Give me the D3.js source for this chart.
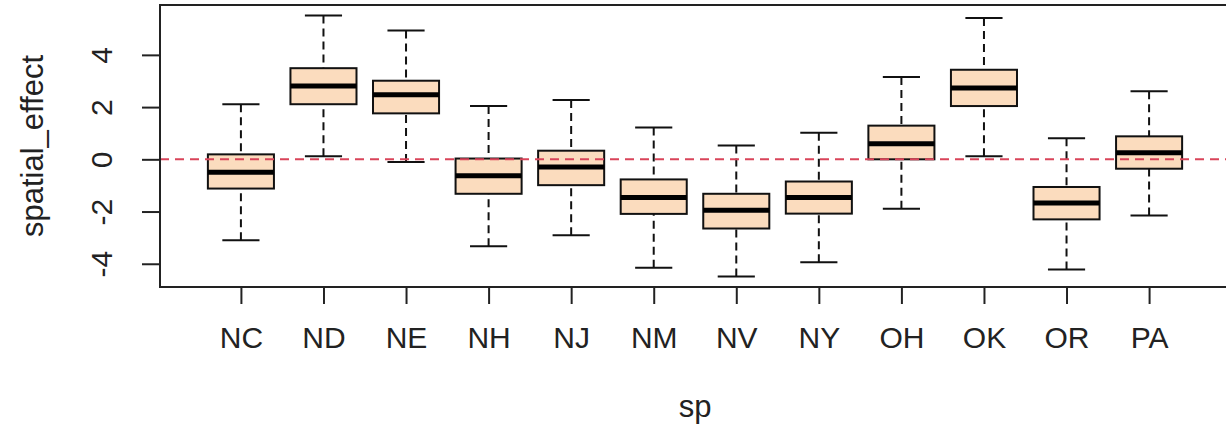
<!DOCTYPE html>
<html>
<head>
<meta charset="utf-8">
<script src="https://cdn.jsdelivr.net/npm/d3@7"></script>
<style>
  html, body { margin: 0; padding: 0; background: #fff; }
  svg { display: block; }
  text { font-family: "Liberation Sans", Arial, sans-serif; fill: #222; }
</style>
</head>
<body>
<svg id="chart" width="1226" height="428"></svg>
<script>
// States (grouping variable "sp")
const categories = ["NC", "ND", "NE", "NH", "NJ", "NM", "NV", "NY", "OH", "OK", "OR", "PA"];

// Five-number summaries of spatial_effect per state
const whiskerLow  = [-3.10, 0.12, -0.10, -3.33, -2.91, -4.15, -4.49, -3.94, -1.89, 0.12, -4.22, -2.15];
const boxLow      = [-1.12, 2.11, 1.76, -1.32, -0.99, -2.09, -2.65, -2.08, 0.00, 2.04, -2.30, -0.36];
const medians     = [-0.50, 2.81, 2.47, -0.63, -0.29, -1.46, -1.95, -1.46, 0.60, 2.73, -1.67, 0.25];
const boxHigh     = [0.19, 3.49, 3.01, 0.03, 0.33, -0.77, -1.32, -0.85, 1.29, 3.43, -1.06, 0.88];
const whiskerHigh = [2.11, 5.51, 4.93, 2.04, 2.27, 1.22, 0.53, 1.02, 3.15, 5.41, 0.81, 2.61];

const yTicks = [-4, -2, 0, 2, 4];
const refValue = 0;
const xLabel = "sp";
const yLabel = "spatial_effect";

const svg = d3.select("#chart");
const plot = { left: 160, right: 1230, top: 5, bottom: 287 };

// x: group index 1..n, padded like base R boxplot
const n = categories.length;
const xPad = 0.04 * n;
const x = d3.scaleLinear()
  .domain([0.5 - xPad, n + 0.5 + xPad])
  .range([plot.left, plot.right]);

// y: data range extended by 4%
const yMin = d3.min(whiskerLow), yMax = d3.max(whiskerHigh);
const yExt = 0.04 * (yMax - yMin);
const y = d3.scaleLinear()
  .domain([yMin - yExt, yMax + yExt])
  .range([plot.bottom, plot.top]);

const unit = x(2) - x(1);
const boxW = 0.8 * unit;
const capW = 0.45 * unit;

const data = categories.map((c, i) => ({
  name: c, pos: i + 1,
  lo: whiskerLow[i], q1: boxLow[i], med: medians[i], q3: boxHigh[i], hi: whiskerHigh[i]
}));

const g = svg.append("g");
const boxes = g.selectAll("g.box").data(data).join("g").attr("class", "box");

// dashed whiskers
boxes.append("line")
  .attr("x1", d => x(d.pos)).attr("x2", d => x(d.pos))
  .attr("y1", d => y(d.hi)).attr("y2", d => y(d.q3))
  .attr("stroke", "#111").attr("stroke-width", 2).attr("stroke-dasharray", "8,5");
boxes.append("line")
  .attr("x1", d => x(d.pos)).attr("x2", d => x(d.pos))
  .attr("y1", d => y(d.lo)).attr("y2", d => y(d.q1))
  .attr("stroke", "#111").attr("stroke-width", 2).attr("stroke-dasharray", "8,5");

// whisker caps
boxes.append("line")
  .attr("x1", d => x(d.pos) - capW / 2).attr("x2", d => x(d.pos) + capW / 2)
  .attr("y1", d => y(d.hi)).attr("y2", d => y(d.hi))
  .attr("stroke", "#111").attr("stroke-width", 2);
boxes.append("line")
  .attr("x1", d => x(d.pos) - capW / 2).attr("x2", d => x(d.pos) + capW / 2)
  .attr("y1", d => y(d.lo)).attr("y2", d => y(d.lo))
  .attr("stroke", "#111").attr("stroke-width", 2);

// boxes
boxes.append("rect")
  .attr("x", d => x(d.pos) - boxW / 2)
  .attr("width", boxW)
  .attr("y", d => y(d.q3))
  .attr("height", d => y(d.q1) - y(d.q3))
  .attr("fill", "#FBDCBE")
  .attr("stroke", "#111").attr("stroke-width", 2);

// medians
boxes.append("line")
  .attr("x1", d => x(d.pos) - boxW / 2).attr("x2", d => x(d.pos) + boxW / 2)
  .attr("y1", d => y(d.med)).attr("y2", d => y(d.med))
  .attr("stroke", "#000").attr("stroke-width", 5);

// reference line at zero
svg.append("line")
  .attr("x1", plot.left).attr("x2", plot.right)
  .attr("y1", y(refValue)).attr("y2", y(refValue))
  .attr("stroke", "#D9445A").attr("stroke-width", 2).attr("stroke-dasharray", "9,6");

// frame
svg.append("rect")
  .attr("x", plot.left).attr("y", plot.top)
  .attr("width", plot.right - plot.left).attr("height", plot.bottom - plot.top)
  .attr("fill", "none").attr("stroke", "#222").attr("stroke-width", 2);

// y axis
const yAxis = svg.append("g")
  .attr("transform", `translate(${plot.left},0)`)
  .call(d3.axisLeft(y).tickValues(yTicks).tickSize(18).tickSizeOuter(0)
    .tickFormat(d => String(d)));
yAxis.select(".domain").remove();
yAxis.selectAll(".tick line").attr("stroke", "#222").attr("stroke-width", 2);
yAxis.selectAll(".tick text")
  .attr("transform", "rotate(-90)")
  .attr("x", 0).attr("y", -48).attr("dy", 0)
  .attr("text-anchor", "middle")
  .style("font-size", "30px")
  .style("font-family", "'Liberation Sans', Arial, sans-serif")
  .attr("fill", "#222");

// x axis
const xAxis = svg.append("g")
  .attr("transform", `translate(0,${plot.bottom})`)
  .call(d3.axisBottom(x).tickValues(d3.range(1, n + 1)).tickSize(17).tickSizeOuter(0)
    .tickFormat(d => categories[d - 1]));
xAxis.select(".domain").remove();
xAxis.selectAll(".tick line").attr("stroke", "#222").attr("stroke-width", 2);
xAxis.selectAll(".tick text")
  .attr("y", 61).attr("dy", 0)
  .style("font-size", "30px")
  .style("font-family", "'Liberation Sans', Arial, sans-serif")
  .attr("fill", "#222");

// axis titles
svg.append("text")
  .attr("x", (plot.left + plot.right) / 2).attr("y", 417)
  .attr("text-anchor", "middle")
  .style("font-size", "31px")
  .text(xLabel);
svg.append("text")
  .attr("transform", `translate(43,${(plot.top + plot.bottom) / 2}) rotate(-90)`)
  .attr("text-anchor", "middle")
  .style("font-size", "31px")
  .text(yLabel);
</script>
</body>
</html>
